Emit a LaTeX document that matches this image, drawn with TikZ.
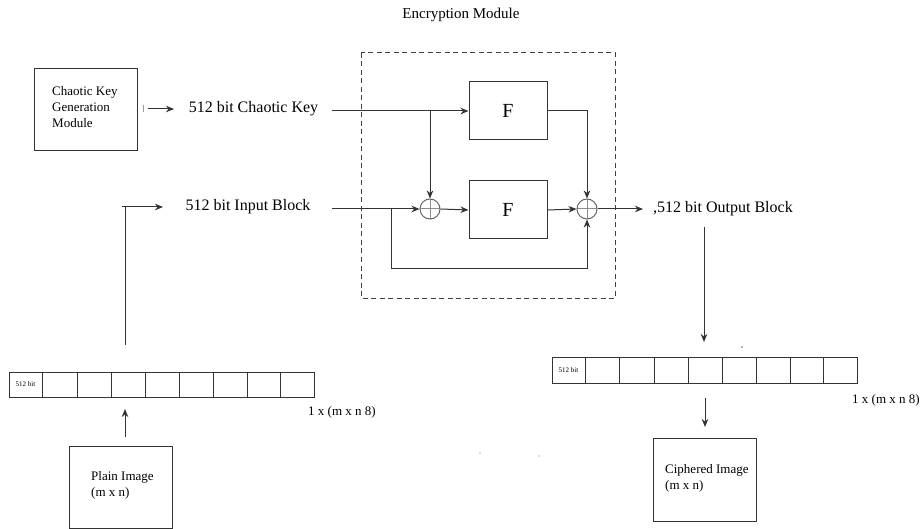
\documentclass[tikz,border=0pt]{standalone}
\usepackage{fontspec}
\setmainfont{Liberation Serif}
\usetikzlibrary{arrows.meta}
\begin{document}
\begin{tikzpicture}[x=1pt,y=-1pt,
  ln/.style={line width=1pt,draw=black!80},
  arr/.style={ln,-{Stealth[length=8pt,width=6.5pt,inset=2.5pt]}},
  box/.style={ln,rectangle,inner sep=0pt},
  lbl/.style={inner sep=0pt,font=\fontsize{16}{19}\selectfont},
  small/.style={inner sep=0pt,align=left,font=\fontsize{13}{16}\selectfont},
  tiny/.style={inner sep=0pt,font=\fontsize{7}{8}\selectfont},
  xorc/.style={circle,draw=black!60,line width=1pt,minimum size=20pt,inner sep=0pt,
    path picture={\draw[black!45,line width=1pt] (path picture bounding box.north) -- (path picture bounding box.south)
      (path picture bounding box.west) -- (path picture bounding box.east);}}
]
\useasboundingbox (0,0) rectangle (920,529);

% title
\node[inner sep=0pt,font=\fontsize{15}{18}\selectfont] (title) at (461,15) {Encryption Module};

% chaotic key generation module
\node[box,minimum width=103pt,minimum height=82pt] (ckg) at (85.5,110) {};
\node[small,anchor=west] (ckgt) at (52,107) {Chaotic Key\\Generation\\Module};
\coordinate (tick1) at (143,105);
\coordinate (tick2) at (143,112);
\draw[black!40,line width=0.6pt] (tick1) -- (tick2);
\coordinate (ka) at (148,109);
\coordinate (kb0) at (174,109);
\node[lbl] (key) at (253.5,109) {512 bit Chaotic Key};
\draw[arr] (ka) -- (kb0);

% input block
\node[lbl] (inp) at (248,207) {512 bit Input Block};
\coordinate (iu) at (125,345);
\coordinate (ic) at (125,207);
\coordinate (il) at (122,207);
\coordinate (ia) at (163,207);
\draw[ln] (iu) -- (ic);
\draw[arr] (il) -- (ia);

% encryption module
\draw[line width=1pt,draw=black!75,dash pattern=on 5pt off 3.5pt] (361,53) rectangle (615,298);
\node[box,minimum width=78pt,minimum height=58pt,font=\fontsize{20}{24}\selectfont] (F1) at (508,111) {F};
\node[box,minimum width=78pt,minimum height=58pt,font=\fontsize{20}{24}\selectfont] (F2) at (508,210) {F};
\node[xorc] (x1) at (430,209) {};
\node[xorc] (x2) at (587,209) {};
\coordinate (ks) at (332,111);
\coordinate (kb) at (430,111);
\coordinate (is) at (332,209);
\coordinate (lb) at (391,209);
\coordinate (f1r) at (587,111);
\draw[arr] (ks) -- (F1.west);
\draw[arr] (kb) -- (x1.north);
\draw[arr] (is) -- (x1.west);
\draw[arr] (x1.east) -- (F2.west);
\draw[arr] (F2.east) -- (x2.west);
\draw[arr] (F1.east) -- (f1r) -- (x2.north);
\draw[arr] (lb) -- (391,268) -- (587,268) -- (x2.south);
\coordinate (oa) at (643,209);
\draw[arr] (x2.east) -- (oa);
\node[lbl,anchor=west] (out) at (653,209) {,512 bit Output Block};

% output to array
\coordinate (ot) at (704,227);
\coordinate (ob) at (704,342);
\node[box,minimum width=305pt,minimum height=26pt] (rarr) at (704.5,370) {};
\draw[arr] (ot) -- (ob);
\foreach \x in {585,619,654,688,722,756,790,823} \draw[ln] (\x,357) -- (\x,383);
\node[tiny] (rb) at (568.5,370) {512 bit};
\node[small,anchor=west] (rdim) at (852,400) {1 x (m x n 8)};
\node[box,minimum width=103pt,minimum height=83pt] (cip) at (704.5,479.5) {};
\node[small,anchor=west] (cipt) at (665,478) {Ciphered Image\\(m x n)};
\coordinate (ct) at (705,398);
\coordinate (cb) at (705,427);
\draw[arr] (ct) -- (cb);

% left array
\node[box,minimum width=305pt,minimum height=25pt] (larr) at (161.5,384.5) {};
\foreach \x in {42,77,111,145,179,213,247,280} \draw[ln] (\x,372) -- (\x,397);
\node[tiny] (lb1) at (25.5,384.5) {512 bit};
\node[small,anchor=west] (ldim) at (308,412) {1 x (m x n 8)};
\node[box,minimum width=103pt,minimum height=82pt] (pla) at (120.5,487) {};
\node[small,anchor=west] (plat) at (91,485) {Plain Image\\(m x n)};
\coordinate (pt) at (125,437);
\coordinate (pa) at (125,409);
\draw[arr] (pt) -- (pa);

% stray dots
\fill[black!60] (742,347) circle (0.8pt);
\fill[black!25] (480,453) circle (0.8pt);
\fill[black!25] (539,456) circle (0.8pt);
\end{tikzpicture}
\end{document}
